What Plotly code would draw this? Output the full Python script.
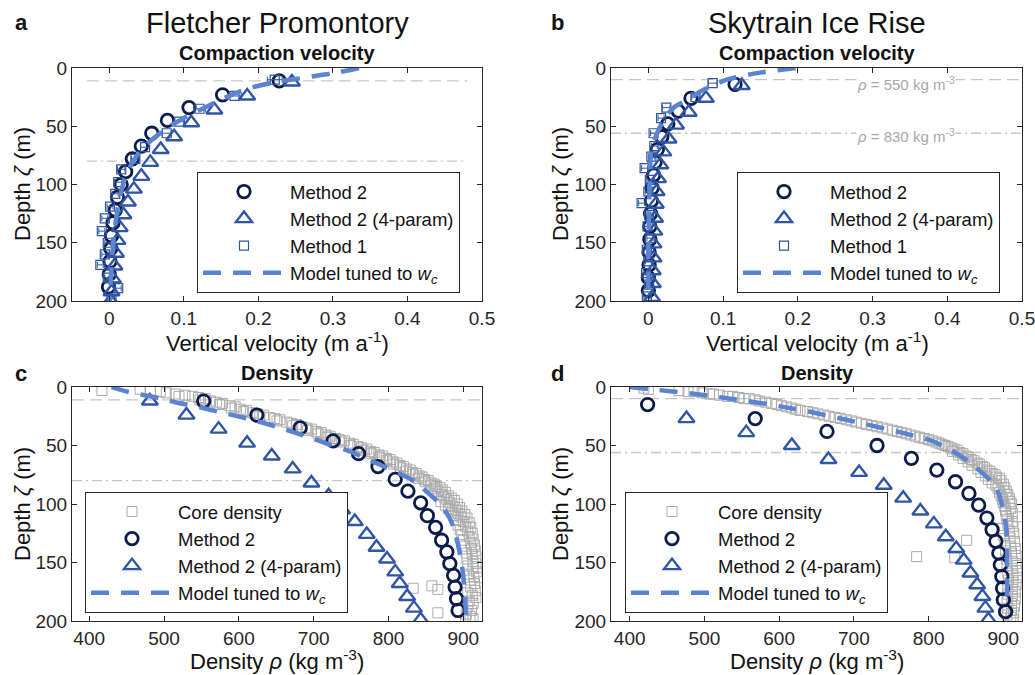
import plotly.graph_objects as go

# ---------------- Data ----------------
# Panel a: Fletcher Promontory, compaction velocity
a_m2_depth = [11, 23, 34, 45, 56, 67, 78, 89, 100, 111, 122, 133, 144, 155, 166, 177, 188]
a_m2_w = [0.228, 0.152, 0.107, 0.078, 0.057, 0.043, 0.031, 0.022, 0.016, 0.011, 0.008, 0.005, 0.003, 0.002, 0.001, 0.000, -0.001]
a_m4_depth = [12, 24, 36, 47, 59, 70, 81, 93, 104, 115, 126, 137, 148, 159, 170, 181, 192, 200]
a_m4_w = [0.245, 0.185, 0.141, 0.110, 0.087, 0.069, 0.055, 0.043, 0.033, 0.025, 0.019, 0.014, 0.011, 0.009, 0.007, 0.005, 0.003, 0.002]
a_m1_depth = [10, 24, 35, 46, 56, 68, 78, 87, 98, 108, 119, 129, 140, 150, 160, 169, 180, 189, 198]
a_m1_w = [0.222, 0.168, 0.121, 0.094, 0.077, 0.048, 0.035, 0.016, 0.012, 0.008, 0.001, -0.006, -0.010, -0.002, -0.006, -0.012, -0.002, 0.012, 0.003]
a_m1_err = [0.010, 0.009, 0.008, 0.007, 0.006, 0.006, 0.005, 0.005, 0.005, 0.004, 0.004, 0.004, 0.004, 0.004, 0.004, 0.004, 0.004, 0.004, 0.004]
a_mod_depth = [0, 4, 8, 12, 17, 22, 28, 35, 44, 55, 67, 80, 95, 115, 140, 170, 200]
a_mod_w = [0.335, 0.305, 0.265, 0.225, 0.190, 0.168, 0.147, 0.125, 0.097, 0.070, 0.048, 0.032, 0.021, 0.013, 0.007, 0.003, 0.001]

# Panel b: Skytrain Ice Rise, compaction velocity
b_m2_depth = [14, 26, 37, 48, 59, 70, 81, 92, 103, 114, 125, 136, 147, 158, 169, 180, 191]
b_m2_w = [0.116, 0.057, 0.040, 0.026, 0.018, 0.012, 0.009, 0.007, 0.005, 0.004, 0.003, 0.002, 0.002, 0.001, 0.001, 0.000, 0.000]
b_m4_depth = [15, 26, 38, 49, 61, 72, 83, 95, 106, 117, 129, 140, 151, 163, 174, 185, 197]
b_m4_w = [0.125, 0.077, 0.054, 0.037, 0.027, 0.020, 0.016, 0.013, 0.011, 0.010, 0.009, 0.008, 0.007, 0.007, 0.006, 0.006, 0.005]
b_m1_depth = [13, 25, 34, 43, 56, 67, 76, 86, 96, 106, 116, 126, 136, 146, 156, 166, 176, 186, 196]
b_m1_w = [0.086, 0.063, 0.024, 0.017, 0.007, 0.008, 0.004, -0.005, 0.002, 0.000, -0.009, 0.001, -0.001, 0.002, -0.002, 0.000, -0.003, 0.001, -0.002]
b_m1_err = [0.006, 0.005, 0.005, 0.004, 0.004, 0.004, 0.004, 0.004, 0.004, 0.004, 0.004, 0.004, 0.004, 0.004, 0.004, 0.004, 0.004, 0.004, 0.004]
b_mod_depth = [0, 3, 6, 10, 14, 20, 27, 33, 40, 50, 60, 72, 90, 120, 160, 200]
b_mod_w = [0.197, 0.160, 0.132, 0.105, 0.090, 0.070, 0.053, 0.036, 0.025, 0.016, 0.009, 0.004, 0.002, 0.001, 0.000, 0.000]

# Panel c: Fletcher Promontory, density
c_core_depth = [2, 3, 3, 4, 5, 6, 7, 8, 8, 9, 10, 11, 12, 13, 14, 15, 16, 17, 18, 19, 20, 21, 22, 23, 24, 25,
                26, 27, 28, 29, 30, 31, 32, 33, 34, 35, 36, 37, 38, 39, 40, 41, 42, 43, 44, 45, 46, 47, 48, 49,
                50, 51, 52, 53, 54, 55, 56, 57, 58, 59, 60, 61, 62, 63, 64, 65, 66, 67, 68, 69, 70, 71, 72, 73,
                74, 75, 76, 77, 78, 79, 80, 81, 82, 83, 84, 85, 86, 87, 88, 89, 90, 92, 93, 94, 95, 96, 97, 98,
                99, 100, 101, 102, 103, 104, 105, 106, 107, 108, 109, 110, 111, 112, 114, 115, 116, 118, 119, 120,
                122, 123, 125, 126, 128, 130, 131, 133, 135, 136, 138, 140, 142, 143, 145, 147, 149, 151, 153, 155,
                158, 160, 162, 163, 165, 168, 170, 171, 172, 173, 174, 176, 178, 180, 183, 185, 188, 191, 193, 194,
                196, 198, 199]
c_core_rho = [468, 417, 482, 495, 503, 515, 528, 520, 538, 546, 555, 548, 562, 570, 578, 574, 588, 595, 590, 602,
              610, 606, 618, 625, 633, 628, 641, 648, 655, 651, 664, 670, 677, 672, 684, 690, 697, 692, 703, 710,
              706, 716, 722, 718, 729, 734, 741, 737, 748, 753, 749, 759, 764, 771, 766, 776, 781, 777, 787, 792,
              788, 797, 802, 798, 806, 811, 807, 815, 820, 816, 824, 829, 823, 832, 837, 833, 841, 845, 840, 848,
              853, 849, 857, 861, 856, 864, 869, 862, 872, 866, 876, 871, 880, 874, 884, 878, 888, 870, 882, 892,
              876, 886, 895, 880, 890, 898, 884, 893, 902, 887, 897, 905, 890, 900, 908, 893, 903, 910, 896, 906,
              912, 898, 908, 913, 900, 910, 915, 902, 911, 916, 904, 912, 917, 905, 913, 917, 906, 913, 918, 907,
              914, 921, 909, 915, 858, 910, 833, 866, 916, 906, 912, 917, 908, 913, 906, 911, 866, 904, 909, 913, 903]
c_m2_depth = [12, 24, 35, 46, 57, 68, 79, 89, 99, 110, 120, 131, 141, 151, 161, 171, 181, 191]
c_m2_rho = [553, 624, 682, 726, 760, 786, 809, 826, 843, 852, 863, 871, 878, 882, 887, 889, 891, 893]
c_m4_depth = [12, 24, 36, 48, 59, 70, 82, 93, 105, 115, 126, 137, 147, 158, 168, 179, 189, 199]
c_m4_rho = [481, 530, 573, 611, 644, 672, 697, 720, 738, 755, 771, 784, 798, 809, 815, 825, 834, 843]
c_mod_depth = [0, 2, 5, 9, 13, 18, 23, 28, 33, 38, 43, 50, 56, 62, 68, 75, 82, 90, 98, 106, 115, 125, 135, 148, 162, 178, 195, 200]
c_mod_rho = [430, 440, 458, 490, 515, 552, 585, 618, 645, 670, 694, 725, 752, 773, 794, 818, 838, 852, 866, 876, 884, 889, 893, 897, 900, 902, 904, 905]

# Panel d: Skytrain Ice Rise, density
d_core_depth = [1, 2, 3, 4, 4, 5, 6, 6, 7, 8, 8, 9, 10, 10, 11, 12, 13, 14, 15, 16, 17, 18, 19, 20, 21, 22,
                23, 24, 25, 26, 27, 28, 29, 30, 31, 32, 33, 34, 35, 36, 37, 38, 39, 40, 41, 42, 43, 44, 45, 46,
                47, 48, 49, 50, 51, 52, 53, 54, 55, 56, 57, 58, 59, 60, 61, 62, 63, 64, 65, 66, 67, 68, 69, 70,
                71, 72, 73, 74, 75, 76, 77, 78, 79, 80, 82, 83, 84, 86, 87, 89, 90, 92, 93, 95, 96, 98, 99, 100,
                102, 104, 106, 108, 110, 111, 113, 115, 117, 119, 121, 123, 125, 127, 129, 131, 132, 134, 136, 138,
                140, 142, 144, 145, 146, 147, 149, 151, 153, 155, 157, 159, 161, 163, 165, 167, 169, 171, 173, 175,
                177, 179, 181, 183, 185, 187, 189, 191, 193, 195, 197, 199]
d_core_rho = [419, 425, 466, 478, 486, 497, 507, 512, 520, 531, 538, 546, 553, 560, 568, 574, 582, 590, 597, 603,
              610, 617, 622, 628, 638, 645, 652, 660, 667, 675, 682, 690, 697, 703, 710, 717, 724, 731, 738, 745,
              752, 758, 764, 770, 776, 782, 788, 794, 800, 805, 810, 814, 818, 822, 826, 830, 834, 838, 832, 842,
              846, 840, 850, 853, 846, 857, 861, 853, 865, 868, 858, 872, 875, 866, 878, 882, 870, 885, 889, 876,
              891, 895, 880, 897, 885, 900, 890, 902, 893, 904, 895, 906, 897, 908, 899, 909, 900, 911, 902, 910,
              903, 912, 904, 920, 905, 912, 906, 913, 898, 908, 914, 900, 909, 851, 915, 902, 910, 916, 903, 911,
              917, 784, 835, 904, 912, 917, 905, 912, 918, 906, 913, 918, 907, 913, 917, 906, 912, 916, 906, 912,
              916, 905, 911, 915, 906, 911, 914, 905, 910, 913]
d_m2_depth = [15, 27, 38, 50, 61, 71, 81, 91, 101, 112, 122, 132, 142, 152, 162, 172, 182, 192]
d_m2_rho = [424, 568, 664, 731, 777, 811, 836, 854, 867, 878, 885, 890, 894, 896, 898, 899, 900, 903]
d_m4_depth = [27, 39, 50, 62, 73, 84, 95, 106, 117, 128, 138, 148, 159, 169, 179, 189, 199]
d_m4_rho = [476, 556, 617, 666, 707, 740, 766, 789, 807, 823, 837, 847, 856, 865, 872, 876, 880]
d_mod_depth = [0, 2, 4, 6, 8, 10, 12, 15, 18, 21, 25, 29, 33, 37, 41, 45, 50, 57, 65, 73, 81, 90, 100, 112, 130, 150, 180]
d_mod_rho = [400, 430, 460, 488, 512, 535, 557, 588, 614, 640, 668, 697, 724, 752, 776, 800, 818, 838, 856, 871, 884, 893, 898, 902, 905, 905, 905]

# Density horizon depths (rho = 550 and rho = 830)
z550 = [11, 10]
z830 = [80, 56]

# ---------------- Styling ----------------
FONT = "Liberation Sans, Arial, Helvetica, sans-serif"
NAVY = "#0c1c4a"
BLUE = "#2f55a4"
MODEL = "#5b83d0"
GREY = "#ababab"
AX = "#262626"

fig = go.Figure()

CIRC = dict(symbol="circle", size=12.5, color="rgba(0,0,0,0)", line=dict(color=NAVY, width=2.8))
TRI = dict(symbol="triangle-up", size=14, color="rgba(0,0,0,0)", line=dict(color=BLUE, width=2.4))
MODEL_LINE = dict(color=MODEL, width=4.5, dash="18px,12px")
MODEL_NAME = "Model tuned to <i>w</i><sub><i>c</i></sub>"


def add_velocity(xa, ya, leg, m2d, m2w, m4d, m4w, m1d, m1w, m1e, modd, modw):
    fig.add_trace(go.Scatter(x=m2w, y=m2d, mode="markers", name="Method 2", xaxis=xa, yaxis=ya, legend=leg,
                             marker=CIRC))
    fig.add_trace(go.Scatter(x=m4w, y=m4d, mode="markers", name="Method 2 (4-param)", xaxis=xa, yaxis=ya,
                             legend=leg, marker=TRI))
    fig.add_trace(go.Scatter(x=m1w, y=m1d, mode="markers", name="Method 1", xaxis=xa, yaxis=ya, legend=leg,
                             error_x=dict(type="data", array=m1e, color=BLUE, thickness=1, width=3),
                             marker=dict(symbol="square", size=9, color="rgba(0,0,0,0)",
                                         line=dict(color=BLUE, width=1.2))))
    fig.add_trace(go.Scatter(x=modw, y=modd, mode="lines", name=MODEL_NAME, xaxis=xa, yaxis=ya, legend=leg,
                             line_shape="spline", line=MODEL_LINE))


def add_density(xa, ya, leg, cd, cr, m2d, m2r, m4d, m4r, modd, modr):
    fig.add_trace(go.Scatter(x=cr, y=cd, mode="markers", name="Core density", xaxis=xa, yaxis=ya, legend=leg,
                             marker=dict(symbol="square", size=10, color="rgba(0,0,0,0)",
                                         line=dict(color=GREY, width=1))))
    fig.add_trace(go.Scatter(x=m2r, y=m2d, mode="markers", name="Method 2", xaxis=xa, yaxis=ya, legend=leg,
                             marker=CIRC))
    fig.add_trace(go.Scatter(x=m4r, y=m4d, mode="markers", name="Method 2 (4-param)", xaxis=xa, yaxis=ya,
                             legend=leg, marker=TRI))
    fig.add_trace(go.Scatter(x=modr, y=modd, mode="lines", name=MODEL_NAME, xaxis=xa, yaxis=ya, legend=leg,
                             line_shape="spline", line=MODEL_LINE))


add_velocity("x", "y", "legend", a_m2_depth, a_m2_w, a_m4_depth, a_m4_w, a_m1_depth, a_m1_w, a_m1_err,
             a_mod_depth, a_mod_w)
add_velocity("x2", "y2", "legend2", b_m2_depth, b_m2_w, b_m4_depth, b_m4_w, b_m1_depth, b_m1_w, b_m1_err,
             b_mod_depth, b_mod_w)
add_density("x3", "y3", "legend3", c_core_depth, c_core_rho, c_m2_depth, c_m2_rho, c_m4_depth, c_m4_rho,
            c_mod_depth, c_mod_rho)
add_density("x4", "y4", "legend4", d_core_depth, d_core_rho, d_m2_depth, d_m2_rho, d_m4_depth, d_m4_rho,
            d_mod_depth, d_mod_rho)

W, H = 1035, 675
left_dom = [72 / W, 482 / W]
right_dom = [611 / W, 1022 / W]
top_dom = [1 - 301 / H, 1 - 68 / H]
bot_dom = [1 - 621 / H, 1 - 387 / H]

axis_common = dict(showline=True, linecolor=AX, linewidth=1, mirror="ticks", ticks="inside", ticklen=5,
                   tickcolor=AX, tickwidth=1, showgrid=False, zeroline=False, automargin=False,
                   ticklabeloverflow="allow", tickfont=dict(family=FONT, size=19, color=AX))

layout = dict(template="none", width=W, height=H, margin=dict(l=0, r=0, t=0, b=0, pad=0, autoexpand=False),
              paper_bgcolor="white", plot_bgcolor="white", font=dict(family=FONT, color="#111111"))

vel_ticks = [0, 0.1, 0.2, 0.3, 0.4, 0.5]
vel_labels = ["0", "0.1", "0.2", "0.3", "0.4", "0.5"]
rho_ticks = [400, 500, 600, 700, 800, 900]
depth_ticks = [0, 50, 100, 150, 200]

layout["xaxis"] = dict(domain=left_dom, anchor="y", range=[-0.05, 0.5], tickvals=vel_ticks, ticktext=vel_labels,
                       **axis_common)
layout["xaxis2"] = dict(domain=right_dom, anchor="y2", range=[-0.05, 0.5], tickvals=vel_ticks,
                        ticktext=vel_labels, **axis_common)
layout["xaxis3"] = dict(domain=left_dom, anchor="y3", range=[377, 925], tickvals=rho_ticks, **axis_common)
layout["xaxis4"] = dict(domain=right_dom, anchor="y4", range=[375, 925], tickvals=rho_ticks, **axis_common)
for i, (dom, xa) in enumerate([(top_dom, "x"), (top_dom, "x2"), (bot_dom, "x3"), (bot_dom, "x4")]):
    key = "yaxis" if i == 0 else f"yaxis{i + 1}"
    layout[key] = dict(domain=dom, anchor=xa, range=[200, 0], tickvals=depth_ticks, **axis_common)

leg_common = dict(bgcolor="white", bordercolor=AX, borderwidth=1, xanchor="left", yanchor="top",
                  font=dict(family=FONT, size=18.5, color="#111111"), itemwidth=82, tracegroupgap=0)
layout["legend"] = dict(x=197 / W, y=1 - 172 / H, **leg_common)
layout["legend2"] = dict(x=737 / W, y=1 - 172 / H, **leg_common)
layout["legend3"] = dict(x=85 / W, y=1 - 492 / H, **leg_common)
layout["legend4"] = dict(x=625 / W, y=1 - 492 / H, **leg_common)

fig.update_layout(**layout)

# Horizontal density-horizon lines
line_style = dict(color="#c6c6c6", width=1.3)
panels = [("x", "y", -0.03, 0.48, 0), ("x2", "y2", -0.05, 0.5, 1), ("x3", "y3", 377, 925, 0),
          ("x4", "y4", 375, 925, 1)]
for xa, ya, x0, x1, k in panels:
    fig.add_shape(type="line", xref=xa, yref=ya, x0=x0, x1=x1, y0=z550[k], y1=z550[k],
                  line=dict(dash="12px,6px", **line_style), layer="below")
    fig.add_shape(type="line", xref=xa, yref=ya, x0=x0, x1=x1, y0=z830[k], y1=z830[k],
                  line=dict(dash="10px,4px,2px,4px", **line_style), layer="below")

ann = []


def txt(x, y, s, size, bold=False, angle=0, color="#111111"):
    ann.append(dict(x=x / W, y=1 - y / H, xref="paper", yref="paper", text=(f"<b>{s}</b>" if bold else s),
                    showarrow=False, xanchor="center", yanchor="middle", textangle=angle,
                    font=dict(family=FONT, size=size, color=color)))


txt(21, 23, "a", 22, bold=True)
txt(557, 23, "b", 22, bold=True)
txt(21, 373, "c", 22, bold=True)
txt(557, 373, "d", 22, bold=True)
txt(277, 23, "Fletcher Promontory", 29)
txt(817, 23, "Skytrain Ice Rise", 29)
txt(277, 53, "Compaction velocity", 20, bold=True)
txt(817, 53, "Compaction velocity", 20, bold=True)
txt(277, 373, "Density", 20, bold=True)
txt(817, 373, "Density", 20, bold=True)
txt(277, 342, "Vertical velocity (m a<sup>-1</sup>)", 22)
txt(817, 342, "Vertical velocity (m a<sup>-1</sup>)", 22)
txt(277, 660, "Density <i>ρ</i> (kg m<sup>-3</sup>)", 22)
txt(817, 660, "Density <i>ρ</i> (kg m<sup>-3</sup>)", 22)
txt(22, 184, "Depth <i>ζ</i> (m)", 22, angle=-90)
txt(560, 184, "Depth <i>ζ</i> (m)", 22, angle=-90)
txt(22, 504, "Depth <i>ζ</i> (m)", 22, angle=-90)
txt(560, 504, "Depth <i>ζ</i> (m)", 22, angle=-90)

fig.update_layout(annotations=ann)
# Labels on the horizon lines in panel b
fig.add_annotation(x=0.345, y=z550[1] + 3, xref="x2", yref="y2", text="<i>ρ</i> = 550 kg m<sup>-3</sup>",
                   showarrow=False, bgcolor="white", font=dict(family=FONT, size=15, color="#a8a8a8"),
                   borderpad=0)
fig.add_annotation(x=0.345, y=z830[1] + 2, xref="x2", yref="y2", text="<i>ρ</i> = 830 kg m<sup>-3</sup>",
                   showarrow=False, bgcolor="white", font=dict(family=FONT, size=15, color="#a8a8a8"),
                   borderpad=0)

fig.write_html("out.html")
